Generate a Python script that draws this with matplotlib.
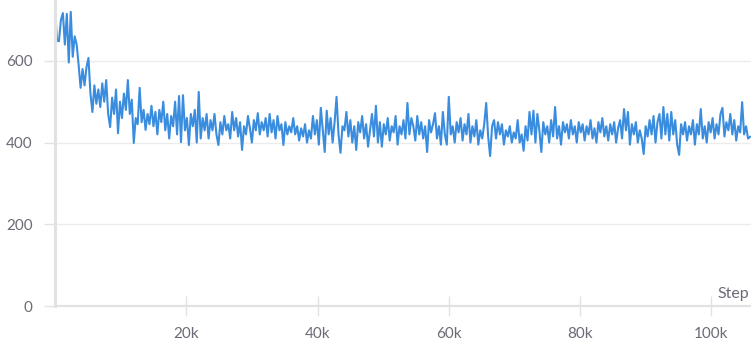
import numpy as np
import matplotlib
matplotlib.use("Agg")
import matplotlib.pyplot as plt

plt.rcParams.update({"font.family": ["Lato", "DejaVu Sans"]})

LINE_COLOR = "#3a8dde"
GRID = "#ececec"
AXIS = "#e2e2e2"
TEXT = "#6b6b76"

# logged every 300 steps
STEP_INTERVAL = 300
values = [
    732, 650, 648, 700, 717, 640, 715, 596, 720, 610, 660, 640, 590, 534, 580, 540, 585, 607, 520, 475,
    540, 495, 530, 487, 545, 500, 553, 470, 438, 510, 470, 530, 423, 500, 460, 520, 480, 553, 470, 505,
    399, 460, 445, 534, 450, 480, 431, 470, 445, 490, 440, 475, 420, 480, 450, 500, 430, 470, 410, 465,
    440, 500, 420, 514, 401, 516, 430, 460, 394, 470, 440, 480, 400, 524, 410, 460, 430, 470, 410, 455,
    430, 470, 420, 394, 450, 420, 465, 430, 445, 410, 475, 430, 460, 415, 450, 382, 440, 420, 465, 435,
    400, 455, 430, 472, 420, 450, 430, 460, 415, 470, 425, 455, 410, 465, 430, 445, 394, 450, 420, 440,
    425, 460, 420, 440, 405, 435, 415, 445, 400, 430, 410, 465, 420, 455, 395, 485, 430, 377, 478, 420,
    460, 400, 450, 512, 420, 375, 440, 430, 475, 415, 455, 400, 440, 382, 450, 425, 465, 410, 445, 390,
    430, 470, 415, 490, 400, 450, 390, 445, 420, 460, 405, 440, 425, 465, 395, 440, 420, 455, 410, 497,
    420, 460, 440, 405, 465, 420, 450, 410, 440, 377, 455, 425, 445, 472, 410, 440, 395, 475, 420, 395,
    512, 420, 440, 400, 450, 425, 460, 405, 445, 420, 470, 400, 440, 415, 455, 395, 430, 410, 445, 497,
    415, 367, 440, 455, 410, 450, 420, 445, 395, 430, 415, 440, 400, 425, 410, 455, 400, 420, 380, 440,
    405, 475, 420, 478, 400, 470, 430, 377, 450, 420, 440, 400, 455, 415, 487, 410, 440, 395, 450, 425,
    445, 410, 455, 420, 440, 400, 450, 425, 445, 405, 440, 420, 455, 410, 435, 400, 450, 425, 460, 415,
    440, 405, 445, 420, 450, 400, 435, 455, 410, 482, 430, 475, 395, 445, 420, 450, 400, 430, 410, 372,
    440, 415, 455, 420, 465, 400, 450, 470, 410, 487, 420, 470, 405, 475, 420, 455, 395, 370, 445, 420,
    450, 405, 440, 420, 455, 395, 445, 420, 482, 410, 440, 400, 450, 425, 460, 410, 445, 420, 470, 485,
    415, 450, 430, 470, 420, 455, 405, 440, 425, 499, 420, 440, 410, 414,
]
steps = np.arange(len(values)) * STEP_INTERVAL

x_ticks = [20000, 40000, 60000, 80000, 100000]
x_labels = ["20k", "40k", "60k", "80k", "100k"]
y_ticks = [0, 200, 400, 600]

fig = plt.figure(figsize=(7.51, 3.43), dpi=100)
ax = fig.add_axes([55 / 751, 1 - 306 / 343, 1 - 55 / 751, 306 / 343])
ax.plot(steps, values, color=LINE_COLOR, lw=1.5)

ax.set_xlim(0, 106050)
ax.set_ylim(0, 749)
ax.set_xticks(x_ticks)
ax.set_xticklabels(x_labels)
ax.set_yticks(y_ticks)
ax.grid(axis="y", color=GRID, lw=1.0)
ax.set_axisbelow(True)

for s in ["top", "right"]:
    ax.spines[s].set_visible(False)
ax.spines["left"].set_color(AXIS)
ax.spines["left"].set_linewidth(2.2)
ax.spines["bottom"].set_color(AXIS)
ax.spines["bottom"].set_linewidth(1.6)

ax.tick_params(axis="x", direction="inout", length=14, width=1, color=AXIS,
               labelcolor=TEXT, labelsize=11, pad=8)
ax.tick_params(axis="y", direction="out", length=8, width=1, color=AXIS,
               labelcolor=TEXT, labelsize=11, pad=8)

ax.text(0.997, 0.026, "Step", transform=ax.transAxes, ha="right", va="baseline",
        color=TEXT, fontsize=11.5)

fig.savefig("out.png", dpi=100)
